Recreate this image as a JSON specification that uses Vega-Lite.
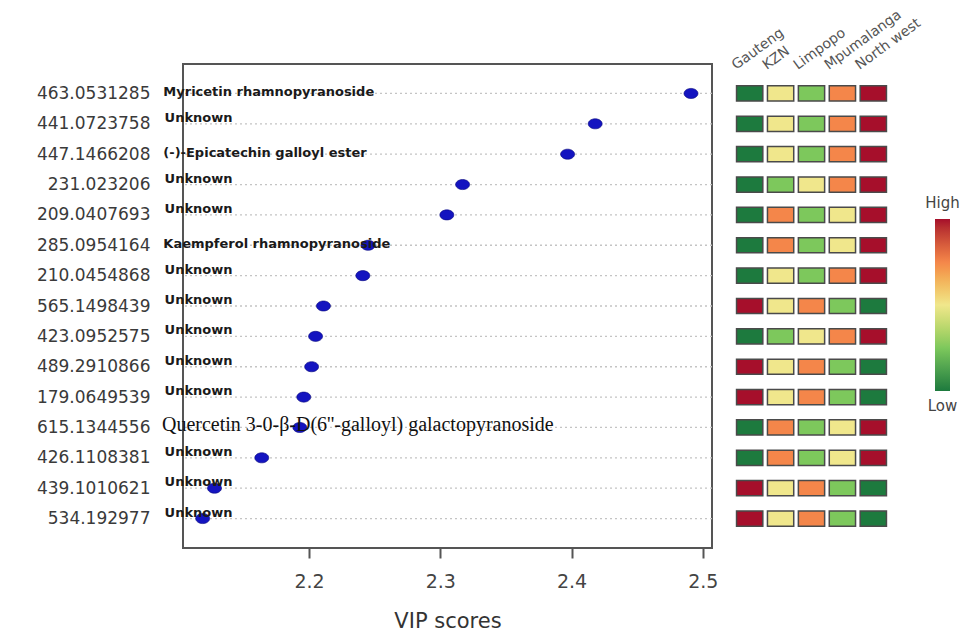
{
  "$schema": "https://vega.github.io/schema/vega-lite/v6.json",
  "background": "white",
  "padding": {"left": 35, "top": 7, "right": 0, "bottom": 0},
  "config": {"font": "DejaVu Sans", "view": {"stroke": null}, "concat": {"spacing": 9}},
  "datasets": {
    "rows": [
      {"mz": "463.0531285", "name": "Myricetin rhamnopyranoside", "vip": 2.491, "Gauteng": 1, "KZN": 3, "Limpopo": 2, "Mpumalanga": 4, "North west": 5},
      {"mz": "441.0723758", "name": "Unknown", "vip": 2.418, "Gauteng": 1, "KZN": 3, "Limpopo": 2, "Mpumalanga": 4, "North west": 5},
      {"mz": "447.1466208", "name": "(-)-Epicatechin galloyl ester", "vip": 2.397, "Gauteng": 1, "KZN": 3, "Limpopo": 2, "Mpumalanga": 4, "North west": 5},
      {"mz": "231.023206", "name": "Unknown", "vip": 2.317, "Gauteng": 1, "KZN": 2, "Limpopo": 3, "Mpumalanga": 4, "North west": 5},
      {"mz": "209.0407693", "name": "Unknown", "vip": 2.305, "Gauteng": 1, "KZN": 4, "Limpopo": 2, "Mpumalanga": 3, "North west": 5},
      {"mz": "285.0954164", "name": "Kaempferol rhamnopyranoside", "vip": 2.245, "Gauteng": 1, "KZN": 4, "Limpopo": 2, "Mpumalanga": 3, "North west": 5},
      {"mz": "210.0454868", "name": "Unknown", "vip": 2.241, "Gauteng": 1, "KZN": 3, "Limpopo": 2, "Mpumalanga": 4, "North west": 5},
      {"mz": "565.1498439", "name": "Unknown", "vip": 2.211, "Gauteng": 5, "KZN": 3, "Limpopo": 4, "Mpumalanga": 2, "North west": 1},
      {"mz": "423.0952575", "name": "Unknown", "vip": 2.205, "Gauteng": 1, "KZN": 2, "Limpopo": 3, "Mpumalanga": 4, "North west": 5},
      {"mz": "489.2910866", "name": "Unknown", "vip": 2.202, "Gauteng": 5, "KZN": 3, "Limpopo": 4, "Mpumalanga": 2, "North west": 1},
      {"mz": "179.0649539", "name": "Unknown", "vip": 2.196, "Gauteng": 5, "KZN": 3, "Limpopo": 4, "Mpumalanga": 2, "North west": 1},
      {"mz": "615.1344556", "name": "Quercetin 3-0-β-D(6''-galloyl) galactopyranoside", "vip": 2.193, "Gauteng": 1, "KZN": 4, "Limpopo": 2, "Mpumalanga": 3, "North west": 5},
      {"mz": "426.1108381", "name": "Unknown", "vip": 2.164, "Gauteng": 1, "KZN": 4, "Limpopo": 2, "Mpumalanga": 3, "North west": 5},
      {"mz": "439.1010621", "name": "Unknown", "vip": 2.128, "Gauteng": 5, "KZN": 3, "Limpopo": 4, "Mpumalanga": 2, "North west": 1},
      {"mz": "534.192977", "name": "Unknown", "vip": 2.119, "Gauteng": 5, "KZN": 3, "Limpopo": 4, "Mpumalanga": 2, "North west": 1}
    ]
  },
  "resolve": {"scale": {"x": "independent", "y": "independent", "color": "independent"}},
  "hconcat": [
    {
      "width": 529,
      "height": 484,
      "data": {"name": "rows"},
      "view": {"stroke": "#555555", "strokeWidth": 2},
      "encoding": {
        "y": {
          "field": "mz", "type": "nominal", "sort": null,
          "scale": {"type": "point", "padding": 0.97},
          "axis": {"title": null, "ticks": false, "domain": false, "grid": false, "labelPadding": 33, "labelFontSize": 17, "labelColor": "#3a3a3a"}
        }
      },
      "layer": [
        {
          "mark": {"type": "rule", "color": "#c4c4c4", "strokeDash": [2, 3], "strokeWidth": 1.3},
          "encoding": {}
        },
        {
          "mark": {"type": "point", "shape": "M -1 0 A 1 0.72 0 1 0 1 0 A 1 0.72 0 1 0 -1 0 Z", "filled": true, "color": "#1414c0", "stroke": "#0a0a7a", "strokeWidth": 0.6, "size": 196, "opacity": 1},
          "encoding": {
            "x": {
              "field": "vip", "type": "quantitative",
              "scale": {"domain": [2.104, 2.507], "nice": false, "zero": false},
              "axis": {"values": [2.2, 2.3, 2.4, 2.5], "format": ".1f", "grid": false, "domain": false, "tickSize": 10, "tickWidth": 2, "tickColor": "#555555", "labelFontSize": 19, "labelColor": "#444444", "labelPadding": 14, "title": "VIP scores", "titleFontSize": 21, "titleFontWeight": "normal", "titleColor": "#333333", "titlePadding": 19}
            }
          }
        },
        {
          "transform": [{"filter": "datum.name == 'Unknown'"}],
          "mark": {"type": "text", "align": "left", "baseline": "middle", "dy": -6, "font": "DejaVu Sans", "fontWeight": "bold", "fontSize": 13, "color": "#1a1a1a"},
          "encoding": {
            "x": {"datum": 2.09, "type": "quantitative", "scale": {"domain": [2.104, 2.507], "nice": false, "zero": false}},
            "text": {"field": "name"}
          }
        },
        {
          "transform": [{"filter": "datum.name != 'Unknown' && indexof(datum.name, 'Quercetin') < 0"}],
          "mark": {"type": "text", "align": "left", "baseline": "middle", "dy": -1, "font": "DejaVu Sans", "fontWeight": "bold", "fontSize": 13, "color": "#1a1a1a"},
          "encoding": {
            "x": {"datum": 2.089, "type": "quantitative"},
            "text": {"field": "name"}
          }
        },
        {
          "transform": [{"filter": "indexof(datum.name, 'Quercetin') >= 0"}],
          "mark": {"type": "text", "align": "left", "baseline": "middle", "dy": -2, "font": "Liberation Serif", "fontSize": 20, "color": "#111111"},
          "encoding": {
            "x": {"datum": 2.088, "type": "quantitative"},
            "text": {"field": "name"}
          }
        }
      ]
    },
    {
      "width": 153,
      "height": 484,
      "data": {"name": "rows"},
      "transform": [{"fold": ["Gauteng", "KZN", "Limpopo", "Mpumalanga", "North west"], "as": ["region", "level"]}],
      "mark": {"type": "rect", "stroke": "#4a4a4a", "strokeWidth": 1.5},
      "encoding": {
        "x": {
          "field": "region", "type": "nominal", "sort": null,
          "scale": {"paddingInner": 0.15, "paddingOuter": 0.05},
          "axis": {"orient": "top", "title": null, "domain": false, "ticks": false, "labelAngle": -36, "labelAlign": "left", "labelBaseline": "bottom", "labelOffset": -12, "labelPadding": -8, "labelFontSize": 14, "labelColor": "#555555"}
        },
        "y": {
          "field": "mz", "type": "nominal", "sort": null,
          "scale": {"paddingInner": 0.5, "paddingOuter": 0.72},
          "axis": null
        },
        "color": {
          "field": "level", "type": "quantitative",
          "scale": {"domain": [1, 2, 3, 4, 5], "range": ["#1d7a3e", "#7dc85c", "#f0e78c", "#f4864a", "#a60f2b"]},
          "legend": {
            "orient": "none", "legendX": 200, "legendY": 155, "direction": "vertical", "title": null,
            "gradientLength": 172, "gradientThickness": 15, "gradientStrokeWidth": 0,
            "values": [1, 5],
            "labelExpr": "datum.value >= 5 ? 'High' : 'Low'",
            "labelFontSize": 15, "labelColor": "#444444", "labelAlign": "center", "labelOffset": -7.5,
            "encode": {"labels": {"update": {"align": {"value": "center"}, "baseline": {"signal": "datum.value >= 5 ? 'bottom' : 'top'"}, "dy": {"signal": "datum.value >= 5 ? -8 : 8"}}}}
          }
        }
      }
    }
  ]
}
